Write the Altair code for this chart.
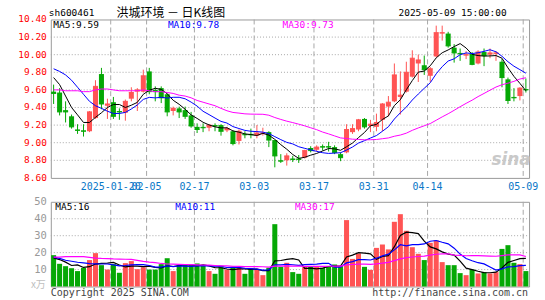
import altair as alt
import pandas as pd

# ---------------- data ----------------
dates = [
    "2025-01-06", "2025-01-07", "2025-01-08", "2025-01-09", "2025-01-10",
    "2025-01-13", "2025-01-14", "2025-01-15", "2025-01-16", "2025-01-17",
    "2025-01-20", "2025-01-21", "2025-01-22", "2025-01-23", "2025-01-24",
    "2025-01-27", "2025-02-05", "2025-02-06", "2025-02-07", "2025-02-10",
    "2025-02-11", "2025-02-12", "2025-02-13", "2025-02-14", "2025-02-17",
    "2025-02-18", "2025-02-19", "2025-02-20", "2025-02-21", "2025-02-24",
    "2025-02-25", "2025-02-26", "2025-02-27", "2025-02-28", "2025-03-03",
    "2025-03-04", "2025-03-05", "2025-03-06", "2025-03-07", "2025-03-10",
    "2025-03-11", "2025-03-12", "2025-03-13", "2025-03-14", "2025-03-17",
    "2025-03-18", "2025-03-19", "2025-03-20", "2025-03-21", "2025-03-24",
    "2025-03-25", "2025-03-26", "2025-03-27", "2025-03-28", "2025-03-31",
    "2025-04-01", "2025-04-02", "2025-04-03", "2025-04-07", "2025-04-08",
    "2025-04-09", "2025-04-10", "2025-04-11", "2025-04-14", "2025-04-15",
    "2025-04-16", "2025-04-17", "2025-04-18", "2025-04-21", "2025-04-22",
    "2025-04-23", "2025-04-24", "2025-04-25", "2025-04-28", "2025-04-29",
    "2025-04-30", "2025-05-06", "2025-05-07", "2025-05-08", "2025-05-09",
]
opens = [
    9.58, 9.57, 9.37, 9.30, 9.15, 9.14, 9.13, 9.28, 9.78, 9.42,
    9.46, 9.36, 9.34, 9.50, 9.58, 9.58, 9.81, 9.60, 9.62, 9.55,
    9.36, 9.39, 9.37, 9.31, 9.18, 9.18, 9.17, 9.20, 9.20, 9.14,
    9.13, 9.02, 9.10, 9.10, 9.08, 9.10, 9.12, 9.03, 8.80, 8.80,
    8.82, 8.82, 8.83, 8.94, 8.92, 8.96, 8.96, 8.95, 8.87, 8.89,
    9.12, 9.15, 9.27, 9.19, 9.18, 9.26, 9.41, 9.47, 9.52, 9.58,
    9.75, 9.90, 9.88, 9.76, 9.98, 10.24, 10.24, 10.08, 10.02, 9.99,
    10.01, 9.90, 10.03, 10.00, 10.01, 9.92, 9.72, 9.52, 9.53, 9.61,
]
closes = [
    9.56, 9.35, 9.35, 9.18, 9.14, 9.13, 9.35, 9.64, 9.44, 9.44,
    9.30, 9.35, 9.47, 9.57, 9.60, 9.76, 9.58, 9.58, 9.51, 9.35,
    9.39, 9.35, 9.30, 9.19, 9.15, 9.17, 9.20, 9.19, 9.13, 9.16,
    8.99, 9.13, 9.09, 9.09, 9.11, 9.11, 9.03, 8.85, 8.79, 8.85,
    8.81, 8.81, 8.91, 8.91, 8.95, 8.95, 8.95, 8.89, 8.83, 9.15,
    9.16, 9.26, 9.18, 9.21, 9.23, 9.44, 9.46, 9.77, 9.54, 9.80,
    9.96, 9.94, 9.83, 9.84, 10.25, 10.25, 10.10, 10.02, 10.01, 10.00,
    9.89, 10.03, 9.99, 10.02, 10.02, 9.74, 9.48, 9.51, 9.62, 9.60,
]
highs = [
    9.66, 9.62, 9.47, 9.32, 9.21, 9.21, 9.36, 9.71, 9.85, 9.50,
    9.52, 9.39, 9.49, 9.63, 9.62, 9.83, 9.85, 9.64, 9.64, 9.56,
    9.41, 9.41, 9.41, 9.35, 9.22, 9.22, 9.21, 9.22, 9.21, 9.18,
    9.14, 9.15, 9.13, 9.16, 9.20, 9.17, 9.13, 9.03, 8.87, 8.88,
    8.85, 8.86, 8.92, 8.96, 8.97, 8.98, 9.01, 8.97, 8.89, 9.21,
    9.21, 9.27, 9.28, 9.26, 9.33, 9.45, 9.53, 9.90, 9.81, 9.92,
    10.05, 10.00, 9.99, 9.86, 10.33, 10.33, 10.26, 10.12, 10.07, 10.04,
    10.03, 10.05, 10.07, 10.07, 10.04, 9.95, 9.74, 9.62, 9.63, 9.73,
]
lows = [
    9.44, 9.31, 9.23, 9.16, 9.10, 9.07, 9.12, 9.27, 9.38, 9.27,
    9.27, 9.26, 9.25, 9.47, 9.36, 9.57, 9.55, 9.47, 9.45, 9.30,
    9.31, 9.28, 9.27, 9.17, 9.11, 9.12, 9.13, 9.13, 9.08, 9.12,
    8.97, 8.98, 9.05, 9.05, 9.05, 9.08, 8.95, 8.72, 8.77, 8.74,
    8.78, 8.77, 8.82, 8.89, 8.90, 8.91, 8.90, 8.87, 8.79, 8.88,
    9.10, 9.13, 9.16, 9.12, 9.13, 9.13, 9.30, 9.46, 9.32, 9.57,
    9.74, 9.69, 9.77, 9.69, 9.97, 10.16, 10.08, 9.91, 9.93, 9.95,
    9.88, 9.89, 9.87, 9.96, 9.93, 9.63, 9.44, 9.47, 9.48, 9.57,
]
volumes = [
    18.5, 13.4, 12.0, 10.8, 9.1, 11.0, 15.6, 19.7, 12.6, 10.0,
    13.2, 8.1, 13.8, 15.0, 10.2, 11.4, 10.0, 10.0, 13.2, 16.7,
    9.1, 12.6, 12.6, 12.6, 13.6, 12.8, 9.1, 7.5, 12.3, 9.9,
    11.2, 11.1, 7.5, 10.8, 10.5, 6.7, 11.1, 36.8, 11.6, 14.0,
    8.5, 7.5, 12.0, 12.0, 12.0, 11.0, 12.0, 13.0, 12.0, 39.2,
    16.3, 19.5, 11.6, 9.8, 22.8, 24.8, 21.9, 38.2, 42.7, 32.9,
    23.2, 19.3, 15.6, 25.8, 27.2, 14.4, 12.6, 12.6, 7.9, 6.7,
    10.0, 7.7, 8.5, 7.7, 8.5, 22.2, 24.4, 14.0, 13.2, 9.1,
]
# moving-average values before the window has enough days
ma5_head = [9.74, 9.66, 9.53, 9.40]
ma10_head = [9.84, 9.81, 9.77, 9.71, 9.63, 9.55, 9.47, 9.42, 9.39]
ma30_head = [9.60, 9.60, 9.59, 9.59, 9.59, 9.58, 9.58, 9.60, 9.61, 9.61,
             9.60, 9.59, 9.59, 9.59, 9.59, 9.60, 9.59, 9.58, 9.58, 9.57,
             9.56, 9.54, 9.53, 9.51, 9.48, 9.46, 9.44, 9.42, 9.39]
vma5_head = [16.9, 15.9, 14.4, 12.4]
vma10_head = [17.3, 16.6, 15.5, 14.9, 14.3, 13.9, 13.5, 13.4, 13.3]
vma30_head = [17.3, 17.4, 17.6, 17.6, 17.7, 17.6, 17.2, 16.8, 16.6, 16.5,
              16.3, 16.2, 16.1, 16.0, 15.4, 14.8, 14.4, 14.1, 13.6, 13.3,
              13.2, 13.1, 13.0, 12.9, 12.8, 12.7, 12.6, 12.4, 12.2]

price_ticks = [8.60, 8.80, 9.00, 9.20, 9.40, 9.60, 9.80, 10.00, 10.20, 10.40]
vol_ticks = [10, 20, 30, 40, 50]
xlabel_dates = ["2025-01-20", "2025-02-05", "2025-02-17", "2025-03-03",
                "2025-03-17", "2025-03-31", "2025-04-14", "2025-05-09"]
xlabel_texts = ["2025-01-20", "02-05", "02-17", "03-03",
                "03-17", "03-31", "04-14", "05-09"]
ma_names = ["MA5", "MA10", "MA30"]
price_legend = ["MA5:9.59", "MA10:9.78", "MA30:9.73"]
vol_legend = ["MA5:16", "MA10:11", "MA30:17"]
header_code = "sh600461"
header_title = "洪城环境 － 日K线图"
header_time = "2025-05-09 15:00:00"
footer_left = "Copyright 2025 SINA.COM"
footer_right = "http://finance.sina.com.cn"
vol_unit = "x万"

# ---------------- styling ----------------
RED = "#ff5454"
GREEN = "#05a805"
MA_COLORS = ["#000000", "#0000ff", "#ff00ff"]
GRID = "#a8a8a8"
MONO = "DejaVu Sans Mono"
CJK = "Noto Sans CJK SC"
FS = 9.5
W, PH, VH = 480, 159, 85


def moving(values, w, head):
    s = pd.Series(values, dtype=float).rolling(w).mean().tolist()
    return list(head) + s[w - 1:]


n = len(dates)
idx = list(range(n))
df = pd.DataFrame({
    "i": idx,
    "xl": [i - 0.42 for i in idx],
    "xr": [i + 0.42 for i in idx],
    "open": opens, "close": closes, "high": highs, "low": lows,
    "vol": volumes,
    "dir": ["up" if c >= o else "down" for o, c in zip(opens, closes)],
})

ma_price = pd.concat([
    pd.DataFrame({"i": idx, "v": moving(closes, 5, ma5_head), "s": "MA5"}),
    pd.DataFrame({"i": idx, "v": moving(closes, 10, ma10_head), "s": "MA10"}),
    pd.DataFrame({"i": idx, "v": moving(closes, 30, ma30_head), "s": "MA30"}),
])
ma_vol = pd.concat([
    pd.DataFrame({"i": idx, "v": moving(volumes, 5, vma5_head), "s": "MA5"}),
    pd.DataFrame({"i": idx, "v": moving(volumes, 10, vma10_head), "s": "MA10"}),
    pd.DataFrame({"i": idx, "v": moving(volumes, 30, vma30_head), "s": "MA30"}),
])

grid_idx = [dates.index(d) for d in xlabel_dates]
grid_df = pd.DataFrame({"gx": [g - 0.45 for g in grid_idx], "lab": xlabel_texts})
ptick_df = pd.DataFrame({"v": price_ticks, "lab": [f"{v:.2f}" for v in price_ticks]})
vtick_df = pd.DataFrame({"v": vol_ticks, "lab": [str(v) for v in vol_ticks]})

xs = alt.Scale(domain=[-0.47, 79.53], nice=False, zero=False)
ys_price = alt.Scale(domain=[8.6, 10.4], nice=False, zero=False)
ys_vol = alt.Scale(domain=[0, 50], nice=False, zero=False)
dir_color = alt.Color("dir:N", scale=alt.Scale(domain=["up", "down"], range=[RED, GREEN]), legend=None)


def label(txt, x, y, color="black", align="left", size=FS, font=MONO, **kw):
    return alt.Chart(pd.DataFrame({"t": [txt]})).mark_text(
        align=align, baseline="middle", font=font, fontSize=size, color=color, **kw
    ).encode(x=alt.value(x), y=alt.value(y), text="t:N")


def ma_layers(frame, yscale, width):
    out = []
    for name, col in zip(ma_names, MA_COLORS):
        out.append(alt.Chart(frame).transform_filter(alt.datum.s == name).mark_line(
            strokeWidth=width, color=col).encode(
            x=alt.X("i:Q", scale=xs, axis=None),
            y=alt.Y("v:Q", scale=yscale, axis=None)))
    return out


def hgrid_and_labels(tick_df, yscale, color, size, inner):
    grid = alt.Chart(tick_df).transform_filter(
        (alt.datum.v > inner[0]) & (alt.datum.v < inner[1])
    ).mark_rule(color=GRID, strokeDash=[1, 2], strokeWidth=1).encode(
        y=alt.Y("v:Q", scale=yscale, axis=None), x=alt.value(0), x2=alt.value(W))
    labs = alt.Chart(tick_df).mark_text(
        align="right", baseline="middle", font=MONO, fontSize=size, color=color).encode(
        y=alt.Y("v:Q", scale=yscale, axis=None), x=alt.value(-4), text="lab:N")
    return grid, labs


base = alt.Chart(df)

# ---------------- price panel ----------------
vgrid_p = alt.Chart(grid_df).mark_rule(color=GRID, strokeDash=[5, 3], strokeWidth=1).encode(
    x=alt.X("gx:Q", scale=xs, axis=None), y=alt.value(0), y2=alt.value(PH))
hgrid_p, ylab_p = hgrid_and_labels(ptick_df, ys_price, "#ff0000", FS, (8.61, 10.39))

wicks = base.mark_rule(strokeWidth=1).encode(
    x=alt.X("i:Q", scale=xs, axis=None),
    y=alt.Y("low:Q", scale=ys_price, axis=None), y2="high:Q",
    color=dir_color)

bodies = base.mark_rect().encode(
    x=alt.X("xl:Q", scale=xs, axis=None), x2="xr:Q",
    y=alt.Y("open:Q", scale=ys_price, axis=None), y2="close:Q",
    color=dir_color)

dojis = base.mark_rule(strokeWidth=1).encode(
    x=alt.X("xl:Q", scale=xs, axis=None), x2="xr:Q",
    y=alt.Y("close:Q", scale=ys_price, axis=None),
    color=dir_color)

xlabels = alt.Chart(grid_df).mark_text(
    align="center", baseline="middle", font=MONO, fontSize=FS + 0.5, color="#0a78c8").encode(
    x=alt.X("gx:Q", scale=xs, axis=None), y=alt.value(168), text="lab:N")

sina = label("sina", 462, 141, color="#c9c9c9", align="center", size=17,
             font="DejaVu Sans", fontStyle="italic", fontWeight="bold")

bounds_rect = alt.Chart(pd.DataFrame({"a": [0]})).mark_rect(opacity=0).encode(
    x=alt.value(-50), x2=alt.value(495), y=alt.value(-18), y2=alt.value(282))

price = alt.layer(
    bounds_rect, hgrid_p, vgrid_p, sina, wicks, bodies, dojis,
    *ma_layers(ma_price, ys_price, 1), xlabels, ylab_p,
    label(header_code, -2, -6.5),
    label(header_title, 66, -6.5, font=CJK, size=12),
    label(header_time, 457.5, -6.5, align="right"),
    label(price_legend[0], 2.5, 5.5, color=MA_COLORS[0]),
    label(price_legend[1], 117.5, 5.5, color=MA_COLORS[1]),
    label(price_legend[2], 232.5, 5.5, color=MA_COLORS[2]),
).properties(width=W, height=PH)

# ---------------- volume panel ----------------
vgrid_v = alt.Chart(grid_df).mark_rule(color=GRID, strokeDash=[5, 3], strokeWidth=1).encode(
    x=alt.X("gx:Q", scale=xs, axis=None), y=alt.value(0), y2=alt.value(VH))
hgrid_v, ylab_v = hgrid_and_labels(vtick_df, ys_vol, "#999999", FS + 1, (1, 49))

vbars = base.mark_rect().encode(
    x=alt.X("xl:Q", scale=xs, axis=None), x2="xr:Q",
    y=alt.Y("vol:Q", scale=ys_vol, axis=None), y2=alt.datum(0),
    color=dir_color)

volume = alt.layer(
    hgrid_v, vgrid_v, vbars, *ma_layers(ma_vol, ys_vol, 1.2), ylab_v,
    label(vol_legend[0], 4.5, 5.5, color=MA_COLORS[0]),
    label(vol_legend[1], 125, 5.5, color=MA_COLORS[1]),
    label(vol_legend[2], 245, 5.5, color=MA_COLORS[2]),
    label(vol_unit, -5, 84, color="#c0c0c0", align="right", size=10, font=CJK),
    label(footer_left, 0, 91.5, color="#444444", size=10),
    label(footer_right, 479, 91.5, color="#444444", size=10, align="right"),
).properties(width=W, height=VH)

chart = alt.vconcat(price, volume, spacing=24, bounds="flush").properties(
    padding=0, background="white"
).configure_view(stroke="#9a9a9a", strokeWidth=1)

chart.save("out.html", embed_options={"renderer": "svg", "actions": False})
